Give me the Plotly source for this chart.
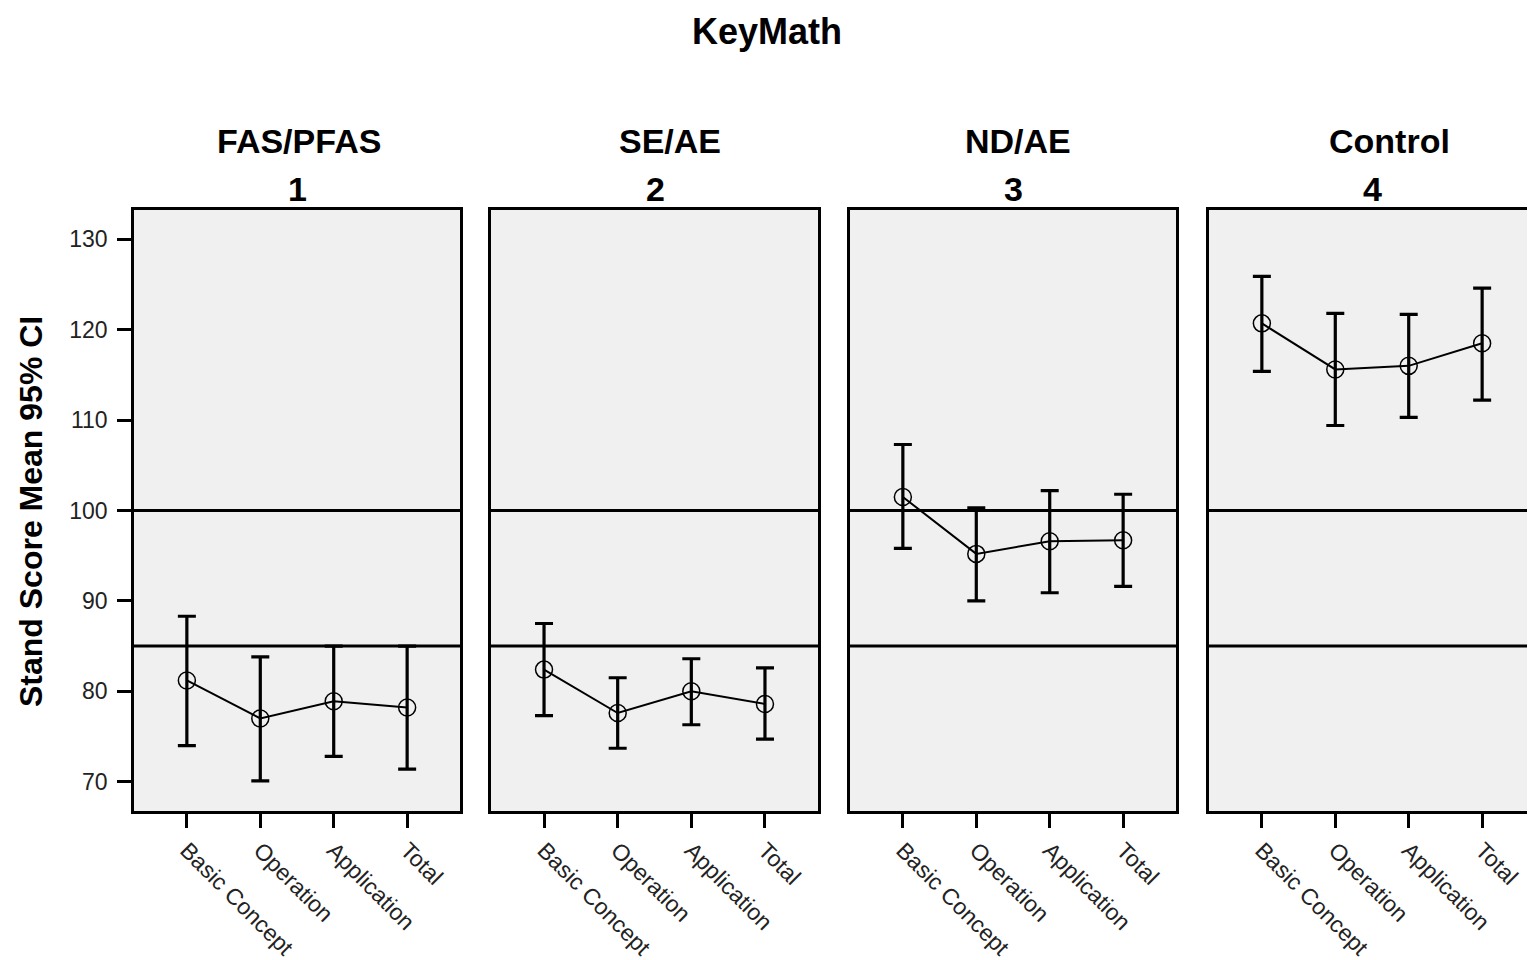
import plotly.graph_objects as go

# ---- data ----
groups = ["FAS/PFAS", "SE/AE", "ND/AE", "Control"]
group_ids = ["1", "2", "3", "4"]
measures = ["Basic Concept", "Operation", "Application", "Total"]

mean_fas = [81.2, 77.0, 78.9, 78.2]
low_fas = [74.0, 70.1, 72.8, 71.4]
high_fas = [88.3, 83.8, 85.0, 85.0]

mean_se = [82.4, 77.6, 80.0, 78.6]
low_se = [77.3, 73.7, 76.3, 74.7]
high_se = [87.5, 81.5, 83.6, 82.6]

mean_nd = [101.5, 95.2, 96.6, 96.7]
low_nd = [95.8, 90.0, 90.9, 91.6]
high_nd = [107.3, 100.3, 102.2, 101.8]

mean_ctl = [120.7, 115.6, 116.0, 118.5]
low_ctl = [115.4, 109.4, 110.3, 112.2]
high_ctl = [125.9, 121.8, 121.7, 124.6]

ref_lines = [100, 85]
y_ticks = [70, 80, 90, 100, 110, 120, 130]

means = [mean_fas, mean_se, mean_nd, mean_ctl]
lows = [low_fas, low_se, low_nd, low_ctl]
highs = [high_fas, high_se, high_nd, high_ctl]

# ---- layout geometry (page pixels; page body has an 8px margin) ----
OFF = 8
W, H = 1535 - OFF, 960 - OFF
ML, MR, MT, MB = 134 - OFF, 0, 210 - OFF, 149
PW = W - ML - MR
PH = H - MT - MB
panel_px = [(134, 460), (491, 818), (850, 1176), (1209, 1535)]
domains = [((a - OFF - ML) / PW, min(1.0, (b - OFF - ML) / PW)) for a, b in panel_px]
header_name_x = [299, 670, 1018, 1389]
header_id_x = [297, 655, 1013, 1372]


def px_x(x):
    return (x - OFF - ML) / PW


def px_y(y):
    return (MT + PH - (y - OFF)) / PH


FONT = "Liberation Sans, Arial, sans-serif"

fig = go.Figure()

for i in range(4):
    xa = "x" if i == 0 else f"x{i+1}"
    ya = "y" if i == 0 else f"y{i+1}"
    m = means[i]
    plus = [h - v for h, v in zip(highs[i], m)]
    minus = [v - l for v, l in zip(m, lows[i])]
    fig.add_trace(go.Scatter(
        x=measures, y=m, xaxis=xa, yaxis=ya,
        mode="lines+markers",
        line=dict(color="black", width=2),
        marker=dict(symbol="circle-open", size=17, color="black",
                    line=dict(width=1.5, color="black")),
        error_y=dict(type="data", symmetric=False, array=plus, arrayminus=minus,
                     color="black", thickness=3.2, width=9),
        showlegend=False, hoverinfo="skip",
    ))

    axis_common = dict(
        showline=True, mirror=True, linecolor="black", linewidth=2.5,
        showgrid=False, zeroline=False,
        ticks="outside", ticklen=14, tickwidth=2.5, tickcolor="black",
    )
    xkey = "xaxis" if i == 0 else f"xaxis{i+1}"
    ykey = "yaxis" if i == 0 else f"yaxis{i+1}"
    fig.update_layout(**{
        xkey: dict(
            axis_common, domain=list(domains[i]), anchor=ya,
            type="category", categoryorder="array", categoryarray=measures,
            range=[-0.72, 3.72], tickangle=45,
            tickfont=dict(family=FONT, size=23, color="#222"),
        ),
        ykey: dict(
            axis_common, domain=[0, 1], anchor=xa,
            range=[66.76, 133.24], tickvals=y_ticks,
            showticklabels=(i == 0),
            ticks="outside" if i == 0 else "",
            ticklabelstandoff=5,
            tickfont=dict(family=FONT, size=23, color="#222"),
        ),
    })

    for r in ref_lines:
        fig.add_shape(type="line", xref=f"{xa} domain", yref=ya,
                      x0=0, x1=1, y0=r, y1=r,
                      line=dict(color="black", width=3), layer="above")

    fig.add_annotation(
        text=f"<b>{groups[i]}</b>", xref="paper", yref="paper",
        x=px_x(header_name_x[i]), y=px_y(141),
        xanchor="center", yanchor="middle", showarrow=False,
        font=dict(family=FONT, size=34, color="black"))
    fig.add_annotation(
        text=f"<b>{group_ids[i]}</b>", xref="paper", yref="paper",
        x=px_x(header_id_x[i]), y=px_y(189),
        xanchor="center", yanchor="middle", showarrow=False,
        font=dict(family=FONT, size=34, color="black"))

fig.add_annotation(
    text="<b>KeyMath</b>", xref="paper", yref="paper",
    x=px_x(767), y=1 + (MT - 1) / PH,
    xanchor="center", yanchor="top", showarrow=False,
    font=dict(family=FONT, size=36, color="black"))

fig.add_annotation(
    text="<b>Stand Score Mean 95% CI</b>", xref="paper", yref="paper",
    x=px_x(31), y=px_y(512), textangle=-90,
    xanchor="center", yanchor="middle", showarrow=False,
    font=dict(family=FONT, size=32, color="black"))

fig.update_layout(
    width=W, height=H,
    margin=dict(l=ML, r=MR, t=MT, b=MB, autoexpand=False),
    paper_bgcolor="white", plot_bgcolor="#f0f0f0",
    font=dict(family=FONT),
)

fig.write_html("out.html")
